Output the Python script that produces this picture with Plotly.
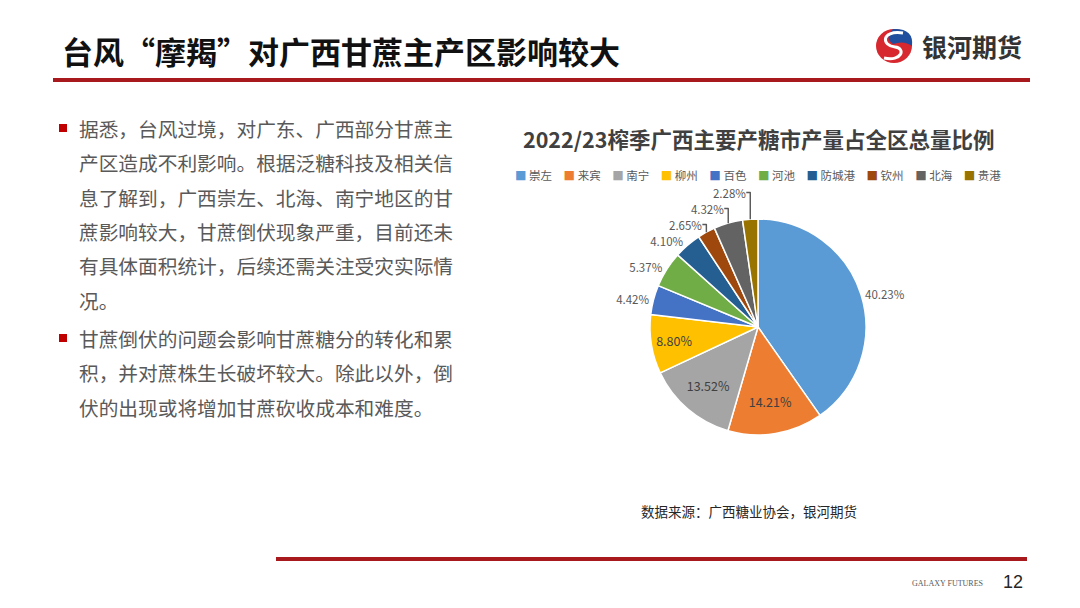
import plotly.graph_objects as go

# ---- data ----
regions = ["崇左", "来宾", "南宁", "柳州", "百色", "河池", "防城港", "钦州", "北海", "贵港"]
shares = [40.23, 14.21, 13.52, 8.80, 4.42, 5.37, 4.10, 2.65, 4.32, 2.28]
colors = ["#5B9BD5", "#ED7D31", "#A5A5A5", "#FFC000", "#4472C4",
          "#70AD47", "#255E91", "#9E480E", "#636363", "#997300"]
label_pos = ["outside", "inside", "inside", "inside", "outside",
             "outside", "outside", "outside", "outside", "outside"]

slide_title = "台风“摩羯”对广西甘蔗主产区影响较大"
chart_title = "2022/23榨季广西主要产糖市产量占全区总量比例"
source_note = "数据来源：广西糖业协会，银河期货"
bullet1 = ["据悉，台风过境，对广东、广西部分甘蔗主",
           "产区造成不利影响。根据泛糖科技及相关信",
           "息了解到，广西崇左、北海、南宁地区的甘",
           "蔗影响较大，甘蔗倒伏现象严重，目前还未",
           "有具体面积统计，后续还需关注受灾实际情",
           "况。"]
bullet2 = ["甘蔗倒伏的问题会影响甘蔗糖分的转化和累",
           "积，并对蔗株生长破坏较大。除此以外，倒",
           "伏的出现或将增加甘蔗砍收成本和难度。"]

# page body has an 8px margin; the figure is sized/positioned to compensate
OFF = 8
W, H = 1064, 592
FONT = "Noto Sans CJK SC"
RED = "#A8191E"


def px(x):
    return (x - OFF) / W


def py(y):
    return 1 - (y - OFF) / H


fig = go.Figure()

cx, cy, r = 758, 327, 108
fig.add_trace(go.Pie(
    labels=regions, values=shares, sort=False, direction="clockwise", rotation=0,
    marker=dict(colors=colors, line=dict(color="white", width=1.5)),
    texttemplate="%{value:.2f}%", textposition=label_pos,
    insidetextfont=dict(family=FONT, size=12.5, color="#404040"),
    outsidetextfont=dict(family=FONT, size=11.5, color="#595959"),
    insidetextorientation="horizontal",
    domain=dict(x=[px(cx - r), px(cx + r)], y=[py(cy + r), py(cy - r)]),
    showlegend=False,
))

annotations = []
shapes = []

# slide title
annotations.append(dict(x=px(60), y=py(50), xref="paper", yref="paper", text="<b>" + slide_title + "</b>",
                        showarrow=False, xanchor="left", yanchor="middle",
                        font=dict(family=FONT, size=31, color="#111111")))
# logo text
annotations.append(dict(x=px(920), y=py(46), xref="paper", yref="paper", text="<b>银河期货</b>",
                        showarrow=False, xanchor="left", yanchor="middle",
                        font=dict(family=FONT, size=25, color="#333333")))
# logo icon
shapes.append(dict(type="circle", xref="paper", yref="paper",
                   x0=px(876), x1=px(912), y0=py(63), y1=py(29),
                   fillcolor="#D7282F", line=dict(width=0)))
shapes.append(dict(type="path", xref="paper", yref="paper",
                   path=f"M {px(893)} {py(29)} Q {px(914)} {py(28)} {px(912)} {py(46)} "
                        f"Q {px(904)} {py(40)} {px(893)} {py(44)} Q {px(884)} {py(38)} {px(893)} {py(29)} Z",
                   fillcolor="#1F4E9E", line=dict(width=0)))
shapes.append(dict(type="path", xref="paper", yref="paper",
                   path=f"M {px(903)} {py(33)} C {px(880)} {py(30)} {px(882)} {py(46)} {px(895)} {py(47)} "
                        f"C {px(906)} {py(48)} {px(902)} {py(62)} {px(884)} {py(58)}",
                   line=dict(color="white", width=3)))

# header line
shapes.append(dict(type="line", xref="paper", yref="paper", x0=px(53), x1=px(1030), y0=py(80), y1=py(80),
                   line=dict(color=RED, width=4)))
# footer line
shapes.append(dict(type="line", xref="paper", yref="paper", x0=px(276), x1=px(1027), y0=py(559), y1=py(559),
                   line=dict(color=RED, width=4)))


def add_bullet(lines, y0):
    shapes.append(dict(type="rect", xref="paper", yref="paper",
                       x0=px(59), x1=px(67), y0=py(y0 + 4), y1=py(y0 - 4),
                       fillcolor="#C00000", line=dict(width=0)))
    for i, t in enumerate(lines):
        annotations.append(dict(x=px(77), y=py(y0 + i * 34.5), xref="paper", yref="paper", text=t,
                                showarrow=False, xanchor="left", yanchor="middle",
                                font=dict(family=FONT, size=19.7, color="#595959")))


add_bullet(bullet1, 128)
add_bullet(bullet2, 338)

# chart title
annotations.append(dict(x=px(758), y=py(138), xref="paper", yref="paper", text="<b>" + chart_title + "</b>",
                        showarrow=False, xanchor="center", yanchor="middle",
                        font=dict(family=FONT, size=21.5, color="#404040")))

# legend row built from the category / colour arrays
legend_text = "\u2002\u2002".join(
    f"<span style='color:{c}'>■</span> {name}" for name, c in zip(regions, colors))
annotations.append(dict(x=px(758), y=py(175), xref="paper", yref="paper", text=legend_text,
                        showarrow=False, xanchor="center", yanchor="middle",
                        font=dict(family=FONT, size=11.5, color="#595959")))

# source
annotations.append(dict(x=px(639), y=py(511), xref="paper", yref="paper", text=source_note,
                        showarrow=False, xanchor="left", yanchor="middle",
                        font=dict(family=FONT, size=13.5, color="#262626")))
# footer
annotations.append(dict(x=px(985), y=py(583), xref="paper", yref="paper", text="GALAXY FUTURES",
                        showarrow=False, xanchor="right", yanchor="middle",
                        font=dict(family="Liberation Serif", size=8, color="#595959")))
annotations.append(dict(x=px(1025), y=py(582), xref="paper", yref="paper", text="12",
                        showarrow=False, xanchor="right", yanchor="middle",
                        font=dict(family="Liberation Sans", size=18, color="#262626")))

fig.update_layout(
    width=W, height=H, margin=dict(l=0, r=0, t=0, b=0),
    paper_bgcolor="white", plot_bgcolor="white",
    annotations=annotations, shapes=shapes,
    showlegend=False,
)

fig.write_html("out.html")
